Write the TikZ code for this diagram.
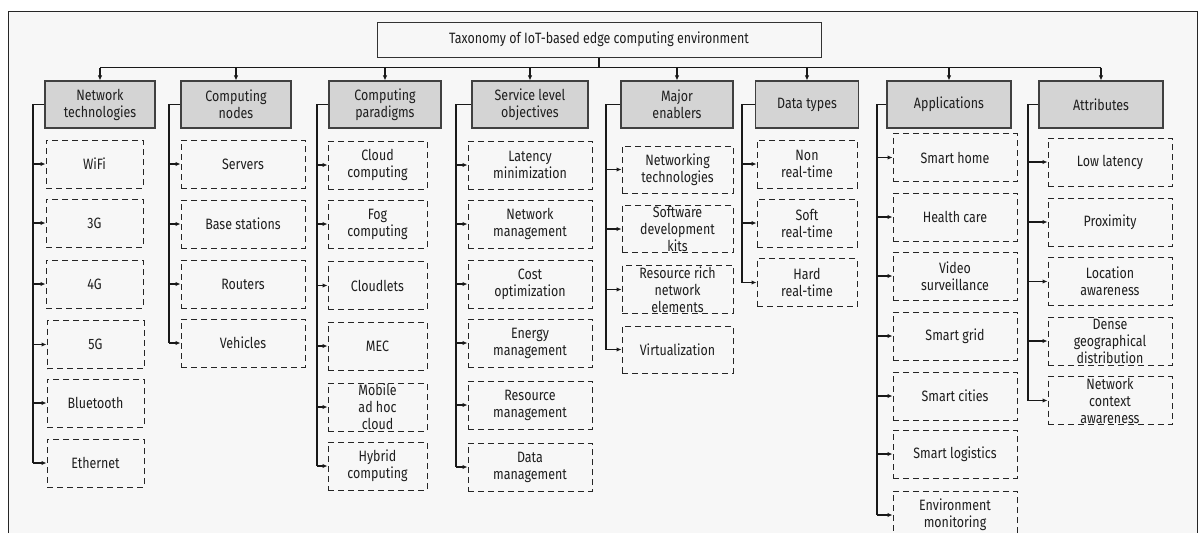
\documentclass[tikz,border=0pt]{standalone}
\usepackage{fontspec}
\setmainfont[FakeStretch=0.83]{Fira Sans}
\usetikzlibrary{arrows.meta}
\definecolor{bgc}{HTML}{F7F7F7}
\definecolor{hdrfill}{HTML}{D4D4D4}
\definecolor{txt}{HTML}{1E1E1E}
\begin{document}
\begin{tikzpicture}[x=1pt,y=-1pt,
  font=\fontsize{15}{17}\selectfont, text=txt,
  hdr/.style={draw=black!75, fill=hdrfill, line width=1.1pt, minimum height=47, align=center, inner sep=1pt},
  leaf/.style={draw=black!85, dash pattern=on 6pt off 4pt, line width=1pt, minimum height=48, align=center, inner sep=1pt},
  titlebox/.style={draw=black!80, line width=1pt, minimum width=444, minimum height=35},
  busline/.style={line width=1.5pt, draw=black!90},
  topline/.style={line width=1.2pt, draw=black!90},
  arr/.style={line width=1.2pt, draw=black!90, -{Latex[length=5pt,width=4.5pt]}},
  c1/.style={leaf, minimum width=97},
  c2/.style={leaf, minimum width=124},
  c3/.style={leaf, minimum width=99},
  c4/.style={leaf, minimum width=124},
  c5/.style={leaf, minimum width=111, minimum height=47},
  c6/.style={leaf, minimum width=100},
  c7/.style={leaf, minimum width=124},
  c8/.style={leaf, minimum width=124}]
\useasboundingbox (0,0) rectangle (1204,533);
\fill[white] (0,0) rectangle (1204,533);
\fill[bgc] (8,11) rectangle (1197,533);
\draw[black!85, line width=1pt] (8,533) -- (8,11) -- (1197,11) -- (1197,533);

% title
\node[titlebox] (title) at (599,39.5) {Taxonomy of IoT-based edge computing environment};

% headers
\node[hdr, minimum width=110] (h1) at (100,104.5) {Network\\technologies};
\node[hdr, minimum width=110] (h2) at (236,104.5) {Computing\\nodes};
\node[hdr, minimum width=112] (h3) at (385,104.5) {Computing\\paradigms};
\node[hdr, minimum width=116] (h4) at (530,104.5) {Service level\\objectives};
\node[hdr, minimum width=112] (h5) at (677,104.5) {Major\\enablers};
\node[hdr, minimum width=103] (h6) at (807,104.5) {Data types};
\node[hdr, minimum width=124] (h7) at (949,104.5) {Applications};
\node[hdr, minimum width=124] (h8) at (1101,104.5) {Attributes};

% top bus
\coordinate (tb) at (599,67.7);
\draw[topline] (title.south) -- (tb);
\draw[topline] (h1.north |- tb) -- (h8.north |- tb);
\foreach \h in {h1,h2,h3,h4,h5,h6,h7,h8}
  \draw[arr] (\h.north |- tb) -- (\h.north);

% column 1
\node[c1] (a1) at (94.5,164) {WiFi};
\node[c1] (a2) at (94.5,223) {3G};
\node[c1] (a3) at (94.5,284) {4G};
\node[c1] (a4) at (95.5,344.5) {5G};
\node[c1] (a5) at (95.5,403) {Bluetooth};
\node[c1] (a6) at (95.5,463) {Ethernet};
% column 2
\node[c2] (b1) at (243,164) {Servers};
\node[c2] (b2) at (243,224) {Base stations};
\node[c2] (b3) at (243,284) {Routers};
\node[c2] (b4) at (243,343) {Vehicles};
% column 3
\node[c3] (d1) at (377.5,165) {Cloud\\computing};
\node[c3] (d2) at (377.5,224) {Fog\\computing};
\node[c3] (d3) at (377.5,285.5) {Cloudlets};
\node[c3] (d4) at (377.5,346) {MEC};
\node[c3] (d5) at (377.5,407) {Mobile\\ad hoc\\cloud};
\node[c3] (d6) at (377.5,466) {Hybrid\\computing};
% column 4
\node[c4] (e1) at (530,165) {Latency\\minimization};
\node[c4] (e2) at (530,224) {Network\\management};
\node[c4] (e3) at (530,284) {Cost\\optimization};
\node[c4] (e4) at (530,343) {Energy\\management};
\node[c4] (e5) at (530,405) {Resource\\management};
\node[c4] (e6) at (530,467) {Data\\management};
% column 5
\node[c5] (f1) at (677.5,169.5) {Networking\\technologies};
\node[c5] (f2) at (677.5,229) {Software\\development\\kits};
\node[c5] (f3) at (677.5,289.5) {Resource rich\\network\\elements};
\node[c5] (f4) at (677.5,349.5) {Virtualization};
% column 6
\node[c6] (g1) at (807,164) {Non\\real-time};
\node[c6] (g2) at (807,223) {Soft\\real-time};
\node[c6] (g3) at (807,282.5) {Hard\\real-time};
% column 7
\node[c7] (k1) at (955,157.5) {Smart home};
\node[c7] (k2) at (955,217) {Health care};
\node[c7] (k3) at (955,276) {Video\\surveillance};
\node[c7] (k4) at (955,336) {Smart grid};
\node[c7] (k5) at (955,396) {Smart cities};
\node[c7] (k6) at (955,454) {Smart logistics};
\node[c7] (k7) at (955,515) {Environment\\monitoring};
% column 8
\node[c8] (m1) at (1110,162) {Low latency};
\node[c8] (m2) at (1110,222) {Proximity};
\node[c8] (m3) at (1110,281.5) {Location\\awareness};
\node[c8] (m4) at (1110,341) {Dense\\geographical\\distribution};
\node[c8] (m5) at (1110,400.5) {Network\\context\\awareness};

% bus x positions
\coordinate (x1) at (33,0);
\coordinate (x2) at (169,0);
\coordinate (x3) at (317,0);
\coordinate (x4) at (456,0);
\coordinate (x5) at (606,0);
\coordinate (x6) at (742,0);
\coordinate (x7) at (877,0);
\coordinate (x8) at (1028,0);

\draw[busline] (h1.west) -- (h1.west -| x1) -- (x1 |- a6.west);
\foreach \n in {a1,a2,a3,a4,a5,a6} \draw[arr] (x1 |- \n.west) -- (\n.west);
\draw[busline] (h2.west) -- (h2.west -| x2) -- (x2 |- b4.west);
\foreach \n in {b1,b2,b3,b4} \draw[arr] (x2 |- \n.west) -- (\n.west);
\draw[busline] (h3.west) -- (h3.west -| x3) -- (x3 |- d6.west);
\foreach \n in {d1,d2,d3,d4,d5,d6} \draw[arr] (x3 |- \n.west) -- (\n.west);
\draw[busline] (h4.west) -- (h4.west -| x4) -- (x4 |- e6.west);
\foreach \n in {e1,e2,e3,e4,e5,e6} \draw[arr] (x4 |- \n.west) -- (\n.west);
\draw[busline] (h5.west) -- (h5.west -| x5) -- (x5 |- f4.west);
\foreach \n in {f1,f2,f3,f4} \draw[arr] (x5 |- \n.west) -- (\n.west);
\draw[busline] (h6.west) -- (h6.west -| x6) -- (x6 |- g3.west);
\foreach \n in {g1,g2,g3} \draw[arr] (x6 |- \n.west) -- (\n.west);
\draw[busline] (h7.west) -- (h7.west -| x7) -- (x7 |- k7.west);
\foreach \n in {k1,k2,k3,k4,k5,k6,k7} \draw[arr] (x7 |- \n.west) -- (\n.west);
\draw[busline] (h8.west) -- (h8.west -| x8) -- (x8 |- m5.west);
\foreach \n in {m1,m2,m3,m4,m5} \draw[arr] (x8 |- \n.west) -- (\n.west);
\end{tikzpicture}
\end{document}
